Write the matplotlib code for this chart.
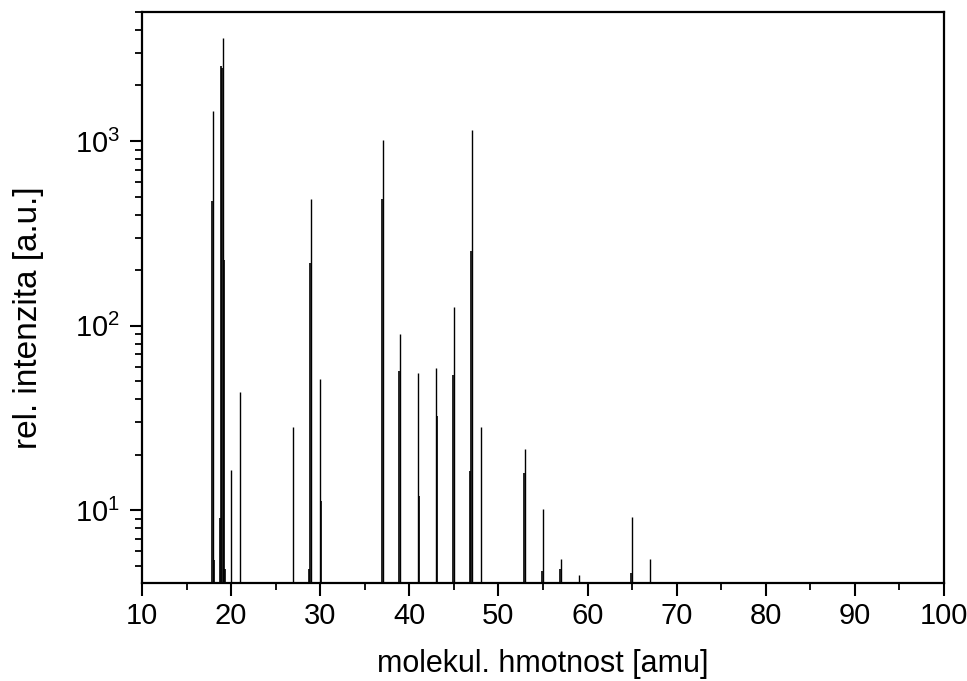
import matplotlib
matplotlib.use("Agg")
import matplotlib.pyplot as plt
from matplotlib.ticker import LogLocator, MultipleLocator, NullFormatter

plt.rcParams['font.family'] = ['Liberation Sans', 'DejaVu Sans']
plt.rcParams['mathtext.fontset'] = 'custom'
plt.rcParams['mathtext.rm'] = 'Liberation Sans'
plt.rcParams['mathtext.it'] = 'Liberation Sans'

# Main stick of each mass peak (nominal mass, intensity)
peak_mass = [18, 19.1, 20, 21, 27, 29, 30, 37, 39, 41, 43, 45, 47, 48,
             53, 55, 57, 59, 65, 67]
peak_height = [1460, 3600, 16.6, 44, 28.3, 484, 51.5, 1020, 90, 55.7,
               59.3, 126, 1150, 28.2, 21.6, 10.2, 5.46, 4.5, 9.2, 5.46]

# Neighbouring samples on the flanks of the peaks
flank_mass = [17.9, 18.1, 18.8, 18.9, 19.0, 19.2, 19.3, 28.8, 28.9, 30.1,
              36.9, 38.9, 41.1, 43.1, 44.9, 46.8, 46.9, 52.9, 54.9, 56.9,
              64.9]
flank_height = [472, 5.4, 9.1, 2550, 2500, 226, 4.8, 4.8, 220, 11.3,
                484, 57, 12, 32.5, 54, 16.4, 254, 15.9, 4.7, 4.8,
                4.6]

x_ticks = [10, 20, 30, 40, 50, 60, 70, 80, 90, 100]

fig = plt.figure(figsize=(9.67, 6.81), dpi=100)
ax = fig.add_axes([0.1468, 0.1439, 0.8294, 0.8385])

base = 1.0
ax.vlines(flank_mass, base, flank_height, colors='black', linewidth=1.2)
ax.vlines(peak_mass, base, peak_height, colors='black', linewidth=1.0)

ax.set_yscale('log')
ax.set_xlim(10, 100)
ax.set_ylim(4.05, 5000)

ax.set_xticks(x_ticks)
ax.xaxis.set_minor_locator(MultipleLocator(5))
ax.yaxis.set_major_locator(LogLocator(base=10, numticks=10))
ax.yaxis.set_minor_locator(LogLocator(base=10, subs=range(2, 10), numticks=20))
ax.yaxis.set_minor_formatter(NullFormatter())

for s in ax.spines.values():
    s.set_linewidth(1.6)

ax.tick_params(axis='both', which='major', direction='out', length=9,
               width=1.5, labelsize=21)
ax.tick_params(axis='x', which='major', pad=5)
ax.tick_params(axis='y', which='major', pad=7)
ax.tick_params(axis='both', which='minor', direction='out', length=5,
               width=1.3)
ax.tick_params(top=False, right=False, which='both')

ax.set_xlabel('molekul. hmotnost [amu]', fontsize=22, labelpad=13)
ax.set_ylabel('rel. intenzita [a.u.]', fontsize=24)
ax.yaxis.set_label_coords(-0.122, 0.465)

fig.savefig('out.png', dpi=100)
